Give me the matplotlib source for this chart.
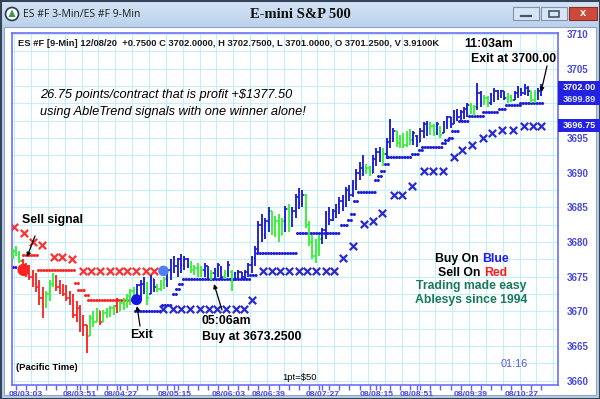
import numpy as np
import matplotlib
matplotlib.use("Agg")
import matplotlib.pyplot as plt
from matplotlib.patches import Rectangle, Circle, Polygon

plt.rcParams['font.family'] = ['Liberation Sans', 'DejaVu Sans']

# ---- 3-min bars (index 0 = first bar on screen) ----
bar_high = [
    3679.0, 3679.5, 3678.75, 3677.5, 3677.0, 3676.75, 3676.0, 3675.5, 3674.5, 3673.5,
    3673.0, 3674.5, 3675.5, 3675.25, 3674.5, 3674.0, 3673.75, 3673.0, 3672.5, 3671.5,
    3671.0, 3669.5, 3668.0, 3669.5, 3670.0, 3670.5, 3670.0, 3670.25, 3670.5, 3670.75,
    3671.0, 3672.0, 3671.5, 3672.0, 3672.5, 3673.25, 3673.5, 3674.0, 3674.5, 3675.0,
    3674.25, 3675.25, 3674.75, 3674.0, 3674.5, 3675.0, 3676.25, 3677.5, 3678.0, 3677.75,
    3678.25, 3678.0, 3677.75, 3677.25, 3676.75, 3677.0, 3676.5, 3677.0, 3676.5, 3676.0,
    3676.25, 3677.0, 3676.5, 3676.0, 3677.25, 3676.0, 3675.75, 3676.0, 3675.75, 3676.0,
    3677.0, 3678.0, 3679.5, 3683.0, 3684.0, 3683.5, 3685.0, 3684.5, 3683.75, 3684.0,
    3683.5, 3685.25, 3685.5, 3685.0, 3687.0, 3687.75, 3687.5, 3687.0, 3683.0, 3681.0,
    3680.5, 3681.0, 3682.0, 3684.5, 3685.0, 3684.75, 3685.5, 3686.5, 3686.75, 3688.0,
    3688.25, 3689.0, 3690.5, 3691.5, 3692.5, 3691.25, 3691.0, 3692.5, 3693.5, 3693.75,
    3693.5, 3695.0, 3697.75, 3696.5, 3696.0, 3695.5, 3695.75, 3696.0, 3696.25, 3696.0,
    3695.5, 3696.5, 3697.25, 3697.5, 3697.25, 3697.0, 3697.25, 3696.75, 3697.5, 3698.25,
    3698.0, 3699.0, 3699.25, 3699.0, 3699.5, 3700.0, 3700.0, 3699.75, 3703.0, 3701.75,
    3701.25, 3701.0, 3701.5, 3702.25, 3702.0, 3702.0, 3701.75, 3701.5, 3701.25, 3701.75,
    3702.5, 3702.25, 3702.75, 3702.5, 3701.75, 3702.0, 3702.25, 3702.75]
bar_low = [
    3677.5, 3678.0, 3677.0, 3675.5, 3675.0, 3674.5, 3673.5, 3672.75, 3671.0, 3669.0,
    3670.5, 3671.5, 3673.5, 3673.0, 3672.5, 3672.25, 3671.5, 3671.0, 3669.0, 3668.5,
    3667.0, 3666.5, 3664.0, 3666.5, 3667.75, 3668.5, 3668.0, 3668.5, 3669.0, 3669.25,
    3669.5, 3669.75, 3670.0, 3670.25, 3670.5, 3671.0, 3671.5, 3671.5, 3671.75, 3672.5,
    3671.0, 3672.5, 3672.75, 3672.75, 3673.0, 3673.25, 3673.5, 3674.5, 3675.5, 3675.0,
    3675.5, 3676.0, 3676.25, 3675.5, 3675.25, 3675.0, 3675.0, 3675.0, 3674.75, 3674.5,
    3674.5, 3675.0, 3674.5, 3674.75, 3675.0, 3673.0, 3674.5, 3674.75, 3674.5, 3674.75,
    3675.0, 3675.5, 3676.5, 3678.5, 3680.0, 3680.5, 3681.5, 3681.0, 3680.75, 3680.0,
    3681.0, 3681.5, 3681.5, 3682.25, 3683.5, 3684.75, 3685.0, 3682.0, 3679.5, 3677.5,
    3677.0, 3678.0, 3679.75, 3680.5, 3682.5, 3683.0, 3683.5, 3684.0, 3684.5, 3685.0,
    3686.0, 3686.5, 3687.5, 3689.0, 3689.5, 3689.75, 3689.5, 3690.0, 3691.0, 3691.5,
    3691.0, 3692.0, 3693.5, 3694.5, 3693.75, 3693.5, 3693.5, 3693.75, 3694.0, 3694.0,
    3693.75, 3694.5, 3695.0, 3695.25, 3695.5, 3695.25, 3695.5, 3695.0, 3695.75, 3696.25,
    3696.5, 3697.0, 3697.5, 3697.25, 3697.75, 3698.0, 3698.5, 3698.25, 3699.0, 3699.5,
    3699.75, 3699.5, 3699.75, 3700.25, 3700.5, 3700.75, 3700.5, 3700.0, 3700.25, 3700.5,
    3700.75, 3701.0, 3701.25, 3701.0, 3700.0, 3700.0, 3700.5, 3701.0]
bar_open = [
    3677.75, 3678.75, 3678.25, 3677.25, 3676.0, 3676.5, 3675.0, 3674.0, 3673.5, 3672.0,
    3671.0, 3672.5, 3674.0, 3675.0, 3673.5, 3673.0, 3672.5, 3672.0, 3671.5, 3669.5,
    3670.5, 3667.5, 3668.0, 3666.5, 3669.0, 3668.5, 3670.0, 3668.5, 3669.75, 3670.0,
    3670.5, 3670.75, 3670.0, 3671.25, 3671.5, 3672.0, 3673.0, 3672.5, 3673.75, 3674.0,
    3674.0, 3672.5, 3674.75, 3673.5, 3673.25, 3674.0, 3674.75, 3676.0, 3677.0, 3676.5,
    3677.5, 3676.75, 3677.5, 3676.5, 3676.0, 3676.25, 3675.5, 3676.0, 3676.5, 3675.25,
    3675.5, 3676.0, 3676.25, 3675.0, 3675.5, 3675.75, 3674.5, 3675.5, 3675.75, 3675.0,
    3675.75, 3676.75, 3677.75, 3679.0, 3682.5, 3681.0, 3683.0, 3684.5, 3682.0, 3683.0,
    3681.0, 3683.0, 3684.75, 3682.5, 3684.5, 3686.5, 3685.5, 3686.75, 3682.5, 3680.0,
    3678.0, 3679.5, 3680.5, 3681.75, 3684.0, 3683.25, 3684.5, 3685.0, 3686.0, 3685.25,
    3687.5, 3686.75, 3688.5, 3690.0, 3690.75, 3690.25, 3690.75, 3690.0, 3692.0, 3693.0,
    3692.25, 3692.75, 3694.5, 3695.0, 3696.0, 3694.25, 3695.0, 3694.0, 3695.5, 3694.75,
    3695.25, 3694.5, 3696.0, 3697.0, 3696.25, 3696.75, 3695.75, 3696.5, 3695.75, 3697.25,
    3698.0, 3697.0, 3698.75, 3698.0, 3698.75, 3699.25, 3699.75, 3699.0, 3699.5, 3701.5,
    3700.25, 3700.75, 3700.0, 3701.25, 3701.75, 3701.0, 3701.75, 3700.75, 3701.0, 3700.5,
    3701.5, 3702.0, 3701.5, 3702.25, 3701.75, 3700.5, 3701.5, 3701.25]
bar_close = [
    3678.75, 3678.25, 3677.25, 3676.0, 3676.5, 3675.0, 3674.0, 3673.5, 3672.0, 3671.0,
    3672.5, 3674.0, 3675.0, 3673.5, 3673.0, 3672.5, 3672.0, 3671.5, 3669.5, 3670.5,
    3667.5, 3668.0, 3666.5, 3669.0, 3668.5, 3670.0, 3668.5, 3669.75, 3670.25, 3670.5,
    3670.75, 3670.0, 3671.25, 3671.75, 3672.25, 3673.0, 3672.5, 3673.75, 3674.0, 3674.75,
    3672.0, 3675.0, 3673.5, 3673.25, 3674.0, 3674.75, 3676.0, 3677.0, 3676.5, 3677.5,
    3676.75, 3677.5, 3676.5, 3676.0, 3676.25, 3675.5, 3676.0, 3676.5, 3675.25, 3675.5,
    3676.0, 3676.75, 3675.0, 3675.5, 3676.75, 3674.5, 3675.5, 3675.75, 3675.0, 3675.75,
    3676.75, 3677.75, 3679.0, 3682.5, 3681.0, 3683.0, 3684.5, 3682.0, 3683.0, 3681.0,
    3683.0, 3684.75, 3682.5, 3684.5, 3686.5, 3685.5, 3686.75, 3682.5, 3680.0, 3678.0,
    3679.5, 3680.5, 3681.75, 3684.0, 3683.25, 3684.5, 3685.0, 3686.0, 3685.25, 3687.5,
    3686.75, 3688.5, 3690.0, 3690.75, 3690.25, 3690.75, 3690.0, 3692.0, 3693.0, 3692.25,
    3692.75, 3694.5, 3695.0, 3696.0, 3694.25, 3695.0, 3694.0, 3695.5, 3694.75, 3695.75,
    3694.5, 3696.0, 3697.0, 3696.25, 3696.75, 3695.75, 3697.0, 3695.5, 3697.25, 3698.0,
    3697.0, 3698.75, 3698.0, 3698.75, 3699.25, 3699.75, 3699.0, 3699.5, 3701.5, 3700.25,
    3700.75, 3700.0, 3701.25, 3701.75, 3701.0, 3701.75, 3700.75, 3701.0, 3700.5, 3701.5,
    3702.0, 3701.5, 3702.25, 3701.75, 3700.5, 3701.5, 3701.75, 3702.0]
# r = sell trend, g = neutral, b = buy trend
bar_color = list("ggg" "rrrrrrr" "ggg" "rrrrrrrrrr" "ggg" "r" "gggg" "r" "ggggg"
                 "bbb" "g" "bb" "ggg" "bbbbbbb" "gggg" "bb" "g" "bbb" "g" "b" "g"
                 "bbbbbbbbbbb" "gggg" "b" "g" "bbbb" "ggggg" "bbbbbbbbbbbbb" "gg"
                 "bbb" "g" "bbb" "ggggg" "bbbbb" "gg" "b" "g" "bbbbbbbb" "gg" "bb"
                 "gg" "bbbbb" "gg" "bbbbb" "gg" "bb")

# ---- trailing stops (dotted steps): from bar, to bar, level ----
red_stop_from = [3, 7.5, 18.5, 19.5, 21.5, 22.5]
red_stop_to = [7.5, 18.5, 19.5, 21.5, 22.5, 36.5]
red_stop_level = [3678.1, 3676.0, 3674.1, 3673.1, 3672.4, 3671.7]

blue_stop_from = [-1.5, 36.5, 44.5, 47.5, 48.5, 49.5, 50.5, 70.5, 72.5, 84.5, 97.5,
                  99.5, 100.5, 101.5, 102.5, 107.5, 108.5, 109.5, 110.5, 111.5,
                  118.5, 120.5, 121.5, 127.5, 128.5, 129.5, 130.5, 132.5, 135.5,
                  139.5, 144.5, 146.5, 150.5]
blue_stop_to = [1.5, 44.5, 47.5, 48.5, 49.5, 50.5, 70.5, 72.5, 84.5, 97.5, 99.5,
                100.5, 101.5, 102.5, 107.5, 108.5, 109.5, 110.5, 111.5, 118.5,
                120.5, 121.5, 127.5, 128.5, 129.5, 130.5, 132.5, 135.5, 139.5,
                144.5, 146.5, 150.5, 157.5]
blue_stop_level = [3676.4, 3670.0, 3671.0, 3672.5, 3673.25, 3674.0, 3674.75, 3675.25,
                   3678.5, 3681.25, 3682.5, 3683.25, 3684.0, 3686.0, 3687.25, 3689.0,
                   3689.5, 3690.25, 3691.25, 3692.25, 3692.75, 3693.25, 3693.75,
                   3694.25, 3694.75, 3695.0, 3696.0, 3697.5, 3698.25, 3698.75,
                   3699.25, 3699.75, 3700.0]

# ---- 9-min stops (X marks) ----
red_x_pos = [0.3, 3.3, 6.2, 8.9, 12.2, 14.8, 17.8, 20.8, 23.4, 26.1, 28.8, 31.5,
             34.1, 36.8, 39.5, 42.1]
red_x_price = [3682.2, 3681.3, 3680.0, 3679.6, 3677.85, 3677.85, 3677.6, 3675.85,
               3675.85, 3675.85, 3675.85, 3675.85, 3675.85, 3675.85, 3675.85, 3675.85]
blue_x_pos = [44.8, 47.5, 50.1, 52.8, 55.5, 58.2, 60.8, 63.5, 66.2, 68.8, 71.2,
              74.2, 76.9, 79.5, 82.2, 84.9, 87.5, 90.2, 92.9, 95.5, 98.2, 101.2,
              104.2, 107.1, 109.8, 113.1, 115.7, 118.7, 122.0, 124.9, 127.9, 130.9,
              133.5, 136.5, 139.5, 142.4, 145.4, 148.4, 151.9, 154.6, 157.0]
blue_x_price = [3670.4, 3670.4, 3670.4, 3670.4, 3670.4, 3670.4, 3670.4, 3670.4,
                3670.4, 3670.4, 3671.7, 3675.85, 3675.85, 3675.85, 3675.85, 3675.85,
                3675.85, 3675.85, 3675.85, 3675.85, 3677.7, 3679.45, 3682.6, 3683.05,
                3684.2, 3686.8, 3686.8, 3688.1, 3690.25, 3690.25, 3690.25, 3692.3,
                3693.3, 3694.0, 3695.0, 3695.75, 3696.2, 3696.2, 3696.75, 3696.75,
                3696.75]

# ---- signals: sell, exit, buy ----
signal_pos = [3.3, 36.8, 44.8]
signal_price = [3676.0, 3671.7, 3675.85]

time_tick_pos = [4, 20, 32, 48, 64, 76, 92, 108, 120, 136, 151]
time_tick_labels = ["08/03:03", "08/03:51", "08/04:27", "08/05:15", "08/06:03",
                    "08/06:39", "08/07:27", "08/08:15", "08/08:51", "08/09:39",
                    "08/10:27"]
price_ticks = [3660, 3665, 3670, 3675, 3680, 3685, 3690, 3695, 3700, 3705, 3710]
# 3700 sits under the last-price box, so its label is not shown
price_tick_labels = ["3660", "3665", "3670", "3675", "3680", "3685", "3690", "3695",
                     "", "3705", "3710"]

RED = '#ff2424'
GREEN = '#36f236'
BLUE = '#1c1cd4'
FRAME = '#6262f4'
AXBLUE = '#4848dc'
palette = {'r': RED, 'g': GREEN, 'b': BLUE}

W, H = 600, 399
fig = plt.figure(figsize=(6, 3.99), dpi=100, facecolor='#b9cfe8')

# window chrome (pixel coordinates)
bg = fig.add_axes([0, 0, 1, 1], zorder=0)
bg.set_xlim(0, W)
bg.set_ylim(H, 0)
bg.axis('off')
grad = np.linspace(0, 1, 30).reshape(-1, 1)
bg.imshow(grad, extent=(0, W, 27, 0), cmap=matplotlib.colors.LinearSegmentedColormap.from_list(
    'tb', ['#d5e4f5', '#bcd2ec']), aspect='auto', zorder=1)
bg.add_patch(Rectangle((4, 27), 592, 368, facecolor='white', edgecolor='#8ea6c4', lw=0.8, zorder=2))
bg.add_patch(Rectangle((0.5, 0.5), W - 1, H - 1, facecolor='none', edgecolor='#33445a', lw=1.5, zorder=3))
bg.add_patch(Circle((12, 14), 6.5, facecolor='white', edgecolor='#2a3a4a', lw=1.2, zorder=3))
bg.add_patch(Polygon([[8.5, 17], [12, 9.5], [15.5, 17]], facecolor='#3a9a4a', zorder=4))
bg.text(23, 14.5, "ES #F 3-Min/ES #F 9-Min", fontsize=7.5, family=['Open Sans', 'DejaVu Sans'],
        color='#1c1c1c', va='center', ha='left', zorder=4)
bg.text(300, 14, "E-mini S&P 500", fontsize=10.5, family=['Liberation Serif', 'DejaVu Serif'],
        fontweight='bold', color='#111111', va='center', ha='center', zorder=4)
for bx, fc in [(513, '#d6e4f4'), (541, '#d6e4f4')]:
    bg.add_patch(Rectangle((bx, 7), 26, 13, facecolor=fc, edgecolor='#7f93ad', lw=0.8, zorder=3))
bg.add_patch(Rectangle((569, 7), 28, 13, facecolor='#cd4a3a', edgecolor='#8a3025', lw=0.8, zorder=3))
bg.plot([521, 531], [15.5, 15.5], color='#44546a', lw=1.6, zorder=4)
bg.add_patch(Rectangle((549, 10.5), 10, 6.5, facecolor='none', edgecolor='#44546a', lw=1.2, zorder=4))
bg.text(583, 13.5, "x", fontsize=8, fontweight='bold', color='white', ha='center', va='center', zorder=4)

# chart axes
x0, x1, y_top, y_bot = 12, 558, 33, 385
ax = fig.add_axes([x0 / W, 1 - y_bot / H, (x1 - x0) / W, (y_bot - y_top) / H], zorder=1)
ax.set_facecolor('white')
ax.set_xlim(-0.15, 161.9)
ax.set_ylim(3659.4, 3710.15)

ax.hlines(np.arange(3660, 3711, 2.5), -0.15, 161.9, colors='#c4eef8', lw=0.8, zorder=0)
ax.vlines(np.arange(0.5, 162, 5), 3659.4, 3710.15, colors='#c4eef8', lw=0.8, zorder=0)

idx = np.arange(len(bar_high))
cols = [palette[c] for c in bar_color]
ax.vlines(idx, bar_low, bar_high, colors=cols, lw=1.35, zorder=3)
ax.hlines(bar_open, idx - 0.45, idx, colors=cols, lw=1.2, zorder=3)
ax.hlines(bar_close, idx, idx + 0.45, colors=cols, lw=1.2, zorder=3)

ax.hlines(red_stop_level, red_stop_from, red_stop_to, colors=RED, lw=2.2,
          linestyles=(0, (0.05, 0.85)), capstyle='round', zorder=2)
ax.hlines(blue_stop_level, blue_stop_from, blue_stop_to, colors=BLUE, lw=2.2,
          linestyles=(0, (0.05, 0.85)), capstyle='round', zorder=2)

ax.scatter(red_x_pos, red_x_price, marker='x', s=28, linewidths=1.6, color='#ff3030', zorder=2)
ax.scatter(blue_x_pos, blue_x_price, marker='x', s=28, linewidths=1.6, color='#2a2ad2', zorder=2)

ax.scatter(signal_pos, signal_price, s=[80, 62, 58], color=[RED, '#1414e6', '#4f80f2'],
           zorder=5, linewidths=0)

for sp in ax.spines.values():
    sp.set_color(FRAME)
    sp.set_linewidth(1.1)
ax.yaxis.tick_right()
ax.set_yticks(price_ticks)
ax.set_yticklabels(price_tick_labels)
ax.tick_params(axis='y', length=0, pad=6, labelsize=7, labelcolor=AXBLUE)
ax.set_xticks(time_tick_pos)
ax.set_xticklabels(time_tick_labels)
ax.set_xticks(np.arange(1, 160, 3), minor=True)
ax.tick_params(axis='x', which='both', length=3.5, width=1, color=FRAME, pad=1,
               labelsize=6.1, labelcolor=AXBLUE)
for lab in ax.get_yticklabels() + ax.get_xticklabels():
    lab.set_fontweight('bold')

# annotations overlay (pixel coordinates)
ov = fig.add_axes([0, 0, 1, 1], zorder=5)
ov.set_xlim(0, W)
ov.set_ylim(H, 0)
ov.axis('off')
ov.patch.set_alpha(0)

ov.text(18, 43.5, "ES #F [9-Min] 12/08/20  +0.7500 C 3702.0000, H 3702.7500, L 3701.0000, "
        "O 3701.2500, V 3.9100K", fontsize=6.75, fontweight='bold', color='#1a1a1a',
        va='center', ha='left')
ov.text(464, 44, "11:03am", fontsize=8.8, fontweight='bold', va='center', ha='left')
ov.text(556, 59, "Exit at 3700.00", fontsize=8.8, fontweight='bold', va='center', ha='right')
ov.text(40, 95, "26.75 points/contract that is profit +$1377.50", fontsize=9.2,
        style='italic', va='center', ha='left')
ov.text(40, 112, "using AbleTrend signals with one winner alone!", fontsize=9.2,
        style='italic', va='center', ha='left')
ov.text(22, 220, "Sell signal", fontsize=8.8, fontweight='bold', va='center', ha='left')
ov.text(130, 335, "Exit", fontsize=8.8, fontweight='bold', va='center', ha='left')
ov.text(202, 321, "05:06am", fontsize=8.8, fontweight='bold', va='center', ha='left')
ov.text(202, 337, "Buy at 3673.2500", fontsize=8.8, fontweight='bold', va='center', ha='left')
ov.text(16, 368, "(Pacific Time)", fontsize=6.8, fontweight='bold', va='center', ha='left')
ov.text(282, 377, "1pt=$50", fontsize=6.8, va='center', ha='left')
ov.text(501, 364, "01:16", fontsize=7.8, color='#5a5ad6', va='center', ha='left')

cx = 471
ov.text(482, 259, "Buy On ", fontsize=8.8, fontweight='bold', va='center', ha='right')
ov.text(482, 259, "Blue", fontsize=8.8, fontweight='bold', color='#1a1af0', va='center', ha='left')
ov.text(484, 273, "Sell On ", fontsize=8.8, fontweight='bold', va='center', ha='right')
ov.text(484, 273, "Red", fontsize=8.8, fontweight='bold', color='#ff1a1a', va='center', ha='left')
ov.text(cx, 286, "Trading made easy", fontsize=8.8, fontweight='bold', color='#16795a',
        va='center', ha='center')
ov.text(cx, 300, "Ablesys since 1994", fontsize=8.8, fontweight='bold', color='#16795a',
        va='center', ha='center')

arrow = dict(arrowstyle='-|>', color='black', lw=0.9, mutation_scale=6,
             shrinkA=0, shrinkB=0)
ov.annotate("", xy=(27, 257), xytext=(35, 236), arrowprops=arrow)
ov.annotate("", xy=(137, 306), xytext=(140, 326), arrowprops=arrow)
ov.annotate("", xy=(214, 284), xytext=(222, 310), arrowprops=arrow)
ov.annotate("", xy=(541, 92), xytext=(547, 66), arrowprops=arrow)

# price boxes on the right scale
ov.add_patch(Rectangle((558, 81), 42, 24, facecolor='#2222e0', edgecolor='none'))
ov.add_patch(Rectangle((558, 119), 42, 13, facecolor='#2222e0', edgecolor='none'))
ov.text(579, 88, "3702.00", fontsize=6.6, fontweight='bold', color='white', va='center', ha='center')
ov.text(579, 99, "3699.89", fontsize=6.6, fontweight='bold', color='#dfe6ff', va='center', ha='center')
ov.text(579, 125.5, "3696.75", fontsize=6.6, fontweight='bold', color='white', va='center', ha='center')

fig.savefig("out.png", dpi=100, facecolor=fig.get_facecolor())
